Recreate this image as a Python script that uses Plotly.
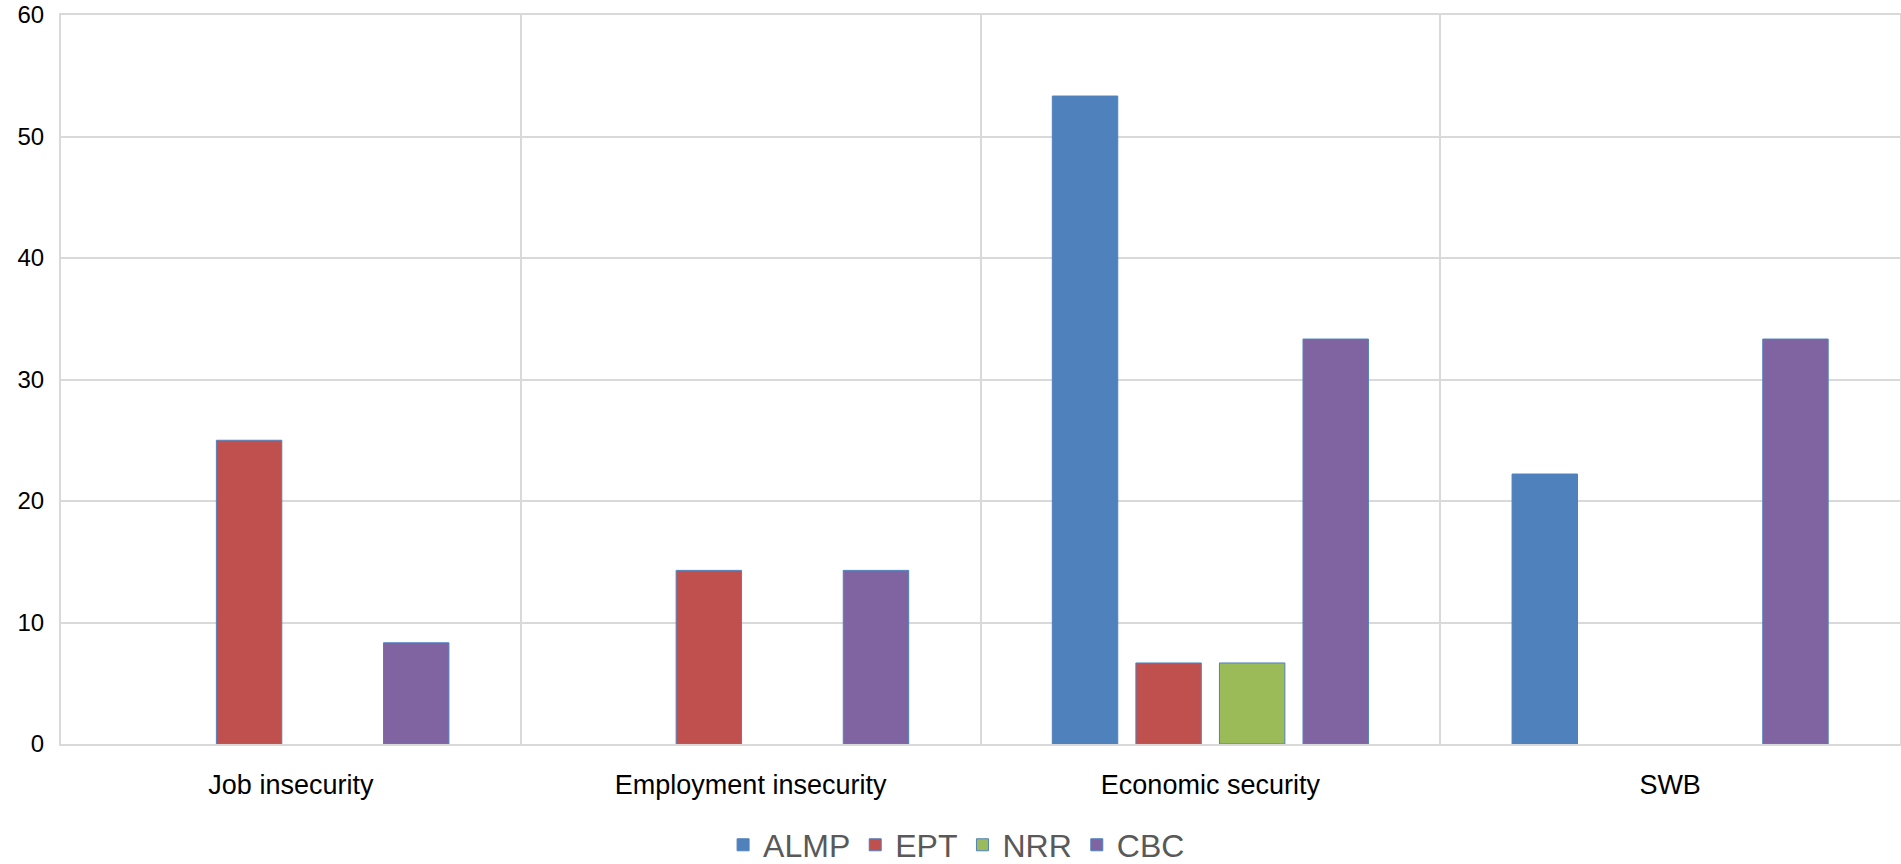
import plotly.graph_objects as go

categories = ["Job insecurity", "Employment insecurity", "Economic security", "SWB"]
almp = [None, None, 53.33, 22.22]
ept = [25.0, 14.29, 6.67, None]
nrr = [None, None, 6.67, None]
cbc = [8.33, 14.29, 33.33, 33.33]
y_ticks = [0, 10, 20, 30, 40, 50, 60]

series = [("ALMP", almp, "#4F81BD"), ("EPT", ept, "#C0504D"),
          ("NRR", nrr, "#9BBB59"), ("CBC", cbc, "#8064A2")]

FONT = "Liberation Sans Narrow, Arial Narrow, Liberation Sans, Arial, sans-serif"
xs = list(range(len(categories)))

fig = go.Figure()
for name, vals, col in series:
    fig.add_trace(go.Bar(x=xs, y=vals, name=name,
                         marker=dict(color=col, line=dict(color="#4F81BD", width=1))))

fig.update_layout(
    width=1901, height=864,
    margin=dict(l=61, r=1, t=15, b=120, autoexpand=False),
    paper_bgcolor="white", plot_bgcolor="white",
    barmode="group", bargap=0.273, bargroupgap=0.217,
    font=dict(family=FONT, color="black"),
    legend=dict(orientation="h", x=0.487, xanchor="center",
                y=-0.1385, yanchor="middle",
                font=dict(size=32, color="#595959", family=FONT),
                itemwidth=30, tracegroupgap=0),
    xaxis=dict(range=[-0.5, 3.5], tickvals=xs, ticktext=categories,
               showgrid=False, zeroline=False,
               showline=True, linecolor="#D9D9D9", linewidth=2, mirror=True,
               ticks="outside", ticklen=16, tickcolor="rgba(0,0,0,0)",
               tickfont=dict(size=27, family=FONT, color="black"),
               minor=dict(tickvals=[0.5, 1.5, 2.5], showgrid=True,
                          gridcolor="#D9D9D9", gridwidth=2, ticks="")),
    yaxis=dict(range=[0, 60], tickvals=y_ticks, showgrid=True, gridcolor="#D9D9D9",
               gridwidth=2, zeroline=False,
               showline=True, linecolor="#D9D9D9", linewidth=2, mirror=True,
               ticks="", ticklabelstandoff=10,
               tickfont=dict(size=24, family=FONT, color="black")),
)

fig.write_html("out.html")
